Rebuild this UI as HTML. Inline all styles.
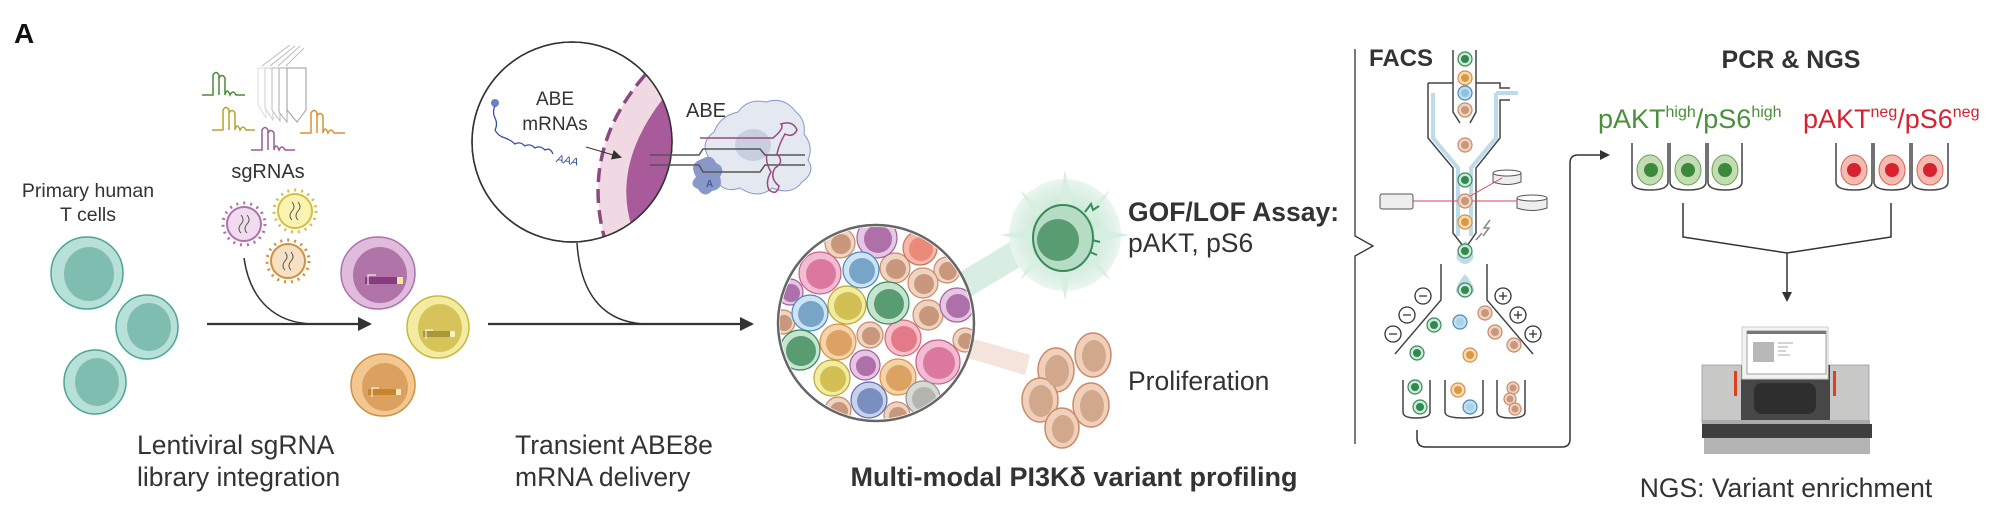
<!DOCTYPE html>
<html><head><meta charset="utf-8"><style>
html,body{margin:0;padding:0;background:#fff;width:2000px;height:532px;overflow:hidden}
svg{display:block;font-family:"Liberation Sans",sans-serif}
</style></head><body>
<svg width="2000" height="532" viewBox="0 0 2000 532" xmlns="http://www.w3.org/2000/svg">
<defs>
<clipPath id="c1"><circle cx="572" cy="142" r="100"/></clipPath>
<clipPath id="c2"><circle cx="876" cy="323" r="96"/></clipPath>
<radialGradient id="gb" cx="0.5" cy="0.5" r="0.5"><stop offset="0.3" stop-color="#bfe3cf"/><stop offset="1" stop-color="#eaf6ef"/></radialGradient>
<marker id="ah" markerWidth="10" markerHeight="10" refX="8" refY="5" orient="auto" markerUnits="userSpaceOnUse"><path d="M0,0 L10,5 L0,10 Z" fill="#333"/></marker>
<marker id="ah2" markerWidth="14" markerHeight="14" refX="12" refY="7" orient="auto" markerUnits="userSpaceOnUse"><path d="M0,0 L14,7 L0,14 Z" fill="#333"/></marker>
</defs>

<text x="14" y="43" font-size="28" font-weight="bold" fill="#111">A</text>

<!-- T cells -->
<text x="88" y="197" font-size="19.5" fill="#333" text-anchor="middle">Primary human</text>
<text x="88" y="221" font-size="19.5" fill="#333" text-anchor="middle">T cells</text>
<g stroke="#4aa597" stroke-width="1.5">
<ellipse cx="87" cy="273" rx="36" ry="36" fill="#b6e0d8"/><ellipse cx="89" cy="274" rx="25" ry="27" fill="#80bdb1" stroke="none"/>
<ellipse cx="147" cy="327" rx="31" ry="32" fill="#b6e0d8"/><ellipse cx="149" cy="327" rx="22" ry="24" fill="#80bdb1" stroke="none"/>
<ellipse cx="95" cy="382" rx="31" ry="32" fill="#b6e0d8"/><ellipse cx="97" cy="382" rx="22" ry="24" fill="#80bdb1" stroke="none"/>
</g>

<!-- sgRNA hairpins -->
<g fill="none" stroke-width="1.5">
<path d="M202,95 H213 V75 q3,-5 6,0 V95 V78 q3,-5 6,0 V95 q2,-8 5,0 q3,-6 6,0 H245" stroke="#4a8a3a"/>
<path d="M212,130 H223 V110 q3,-5 6,0 V130 V113 q3,-5 6,0 V130 q2,-8 5,0 q3,-6 6,0 H255" stroke="#b8a030"/>
<path d="M251,150 H262 V130 q3,-5 6,0 V150 V133 q3,-5 6,0 V150 q2,-8 5,0 q3,-6 6,0 H295" stroke="#9a5a9a"/>
<path d="M300,133 H311 V113 q3,-5 6,0 V133 V116 q3,-5 6,0 V133 q2,-8 5,0 q3,-6 6,0 H345" stroke="#d99030"/>
</g>
<g fill="#fff" stroke="#aaa" stroke-width="1">
<path d="M258,68 V105 L266,118 V68 Z" stroke="#ddd"/>
<path d="M265,68 V108 L273,120 V68 Z" stroke="#ccc"/>
<path d="M272,68 V110 L280,121 V68 Z" stroke="#bbb"/>
<path d="M279,68 V112 L287,122 V68 Z" stroke="#aaa"/>
<path d="M287,68 V110 L297,122 L306,110 V68 Z" stroke="#999"/>
<path d="M262,66 L290,45 M270,66 L295,46 M278,66 L300,46 M286,66 L304,48" stroke="#bbb"/>
</g>
<text x="268" y="178" font-size="20" fill="#333" text-anchor="middle">sgRNAs</text>

<!-- viruses -->
<g>
<circle cx="244" cy="224" r="21" fill="none" stroke="#b070b0" stroke-width="3" stroke-dasharray="2 5"/>
<circle cx="244" cy="224" r="17" fill="#f1dcef" stroke="#b070b0" stroke-width="2"/>
<circle cx="295" cy="211" r="21" fill="none" stroke="#d4c040" stroke-width="3" stroke-dasharray="2 5"/>
<circle cx="295" cy="211" r="17" fill="#fbf4b0" stroke="#d4c040" stroke-width="2"/>
<circle cx="288" cy="261" r="21" fill="none" stroke="#d09040" stroke-width="3" stroke-dasharray="2 5"/>
<circle cx="288" cy="261" r="17" fill="#f6e1c4" stroke="#d09040" stroke-width="2"/>
<path d="M241,215 q4,5 0,9 q-4,5 0,9 M247,215 q4,5 0,9 q-4,5 0,9 M292,202 q4,5 0,9 q-4,5 0,9 M298,202 q4,5 0,9 q-4,5 0,9 M285,252 q4,5 0,9 q-4,5 0,9 M291,252 q4,5 0,9 q-4,5 0,9" stroke="#555" fill="none" stroke-width="1"/>
</g>

<!-- arrow 1 -->
<path d="M244,258 C250,300 275,324 315,324" stroke="#333" stroke-width="1.5" fill="none"/>
<line x1="207" y1="324" x2="370" y2="324" stroke="#333" stroke-width="2.2" marker-end="url(#ah2)"/>

<!-- edited cells -->
<g stroke-width="1.5">
<ellipse cx="378" cy="273" rx="37" ry="36" fill="#e0bcdc" stroke="#b070b0"/><ellipse cx="380" cy="275" rx="27" ry="28" fill="#b174a8"/>
<rect x="365" y="277" width="32" height="7" fill="#8a3a80"/><rect x="397" y="277" width="6" height="7" fill="#f4eaa0"/>
<ellipse cx="438" cy="327" rx="31" ry="31" fill="#f2eba0" stroke="#c8b840"/><ellipse cx="440" cy="328" rx="22" ry="24" fill="#d6c45a"/>
<rect x="423" y="331" width="27" height="6" fill="#a89838"/><rect x="450" y="331" width="5" height="6" fill="#f8f0c0"/>
<ellipse cx="383" cy="385" rx="32" ry="31" fill="#f2c890" stroke="#d09040"/><ellipse cx="385" cy="387" rx="23" ry="24" fill="#dca060"/>
<rect x="368" y="389" width="28" height="6" fill="#c8852e"/><rect x="396" y="389" width="5" height="6" fill="#f6ebb8"/>
</g>
<path d="M368,285 v-10 h8 M426,339 v-9 h7 M372,397 v-9 h7" stroke="#fff" stroke-width="1" fill="none"/>

<text x="137" y="454" font-size="26.5" fill="#333">Lentiviral sgRNA</text>
<text x="137" y="486" font-size="26.5" fill="#333">library integration</text>

<!-- zoom circle -->
<circle cx="572" cy="142" r="100" fill="#fff" stroke="#333" stroke-width="1.5"/>
<g clip-path="url(#c1)">
<path d="M645,75 Q580,150 605,240 L700,240 L700,30 L660,30 Z" fill="#f1d9e4"/>
<path d="M662,100 Q612,165 632,228 L700,228 L700,90 Z" fill="#a85a9a"/>
<path d="M645,75 Q580,150 605,240" fill="none" stroke="#8a4a80" stroke-width="3.5" stroke-dasharray="14 7"/>
</g>
<circle cx="572" cy="142" r="100" fill="none" stroke="#333" stroke-width="1.5"/>
<text x="555" y="105" font-size="19" fill="#333" text-anchor="middle">ABE</text>
<text x="555" y="130" font-size="19" fill="#333" text-anchor="middle">mRNAs</text>
<circle cx="495" cy="103" r="4" fill="#6a80c0"/>
<path d="M495,106 q-3,6 0,12 q3,6 0,12 q3,6 10,8 q6,2 10,6 q5,-3 10,2 q5,-3 10,2 q5,-3 10,2 q5,-3 8,4" stroke="#3050a0" stroke-width="1.3" fill="none"/>
<text x="556" y="162" font-size="11" font-style="italic" fill="#3050a0" transform="rotate(10 556 162)">AAA</text>
<line x1="586" y1="147" x2="620" y2="157" stroke="#333" stroke-width="1" marker-end="url(#ah)"/>
<path d="M577,243 C580,290 600,322 645,324" stroke="#333" stroke-width="1.5" fill="none"/>
<line x1="488" y1="324" x2="752" y2="324" stroke="#333" stroke-width="2.2" marker-end="url(#ah2)"/>

<!-- ABE protein -->
<text x="686" y="117" font-size="20" fill="#333">ABE</text>
<path d="M738,112 q10,-14 28,-10 q18,-6 30,10 q10,8 8,22 q10,12 4,26 q8,12 -6,22 q-10,14 -30,6 q-14,12 -32,0 q-18,6 -24,-10 q-14,-6 -8,-22 q-8,-14 6,-24 q6,-16 24,-20 Z" fill="#e4e8f1" stroke="#8898c8" stroke-width="1"/>
<ellipse cx="753" cy="145" rx="18" ry="16" fill="#c8cfe0"/>
<path d="M696,177 q-8,-14 6,-18 q10,-6 14,4 q10,4 4,14 q4,12 -8,14 q-8,8 -14,-2 q-10,-4 -2,-12 Z" fill="#8898c8"/>
<text x="706" y="187" font-size="10" font-weight="bold" fill="#4a5a9a">A</text>
<g stroke="#555" stroke-width="1.5" fill="none">
<path d="M650,155 H699 L703,149 H760 L765,155 H805"/>
<path d="M650,165 H699 L703,172 H760 L765,165 H805"/>
</g>
<path d="M700,138 H773 q12,-10 8,-14 q12,-4 16,6 q-4,8 -12,4 q-6,10 -8,20 q8,8 -2,14 q-6,10 4,18 q-2,10 -10,4 q-4,-8 2,-18 q-6,-10 -4,-18" stroke="#9a4a80" stroke-width="1.5" fill="none"/>

<!-- beams -->
<path d="M955,275 L1030,230 L1040,255 L965,300 Z" fill="#cfeadb" opacity="0.8"/>
<path d="M960,335 L1030,355 L1025,375 L958,355 Z" fill="#f3e1d8" opacity="0.9"/>

<!-- big cell circle -->
<circle cx="876" cy="323" r="98" fill="#fff"/>
<g clip-path="url(#c2)" stroke-width="1.2">
<g fill="#f0d4c2" stroke="#c98a6a"><circle cx="840" cy="243" r="15"/><circle cx="895" cy="268" r="15"/><circle cx="947" cy="270" r="13"/><circle cx="923" cy="283" r="15"/><circle cx="928" cy="315" r="15"/><circle cx="783" cy="322" r="12"/><circle cx="870" cy="335" r="13"/><circle cx="965" cy="340" r="12"/><circle cx="838" cy="410" r="13"/><circle cx="897" cy="415" r="13"/></g>
<g fill="#c9977b"><circle cx="841" cy="244" r="10"/><circle cx="896" cy="269" r="10"/><circle cx="948" cy="271" r="9"/><circle cx="924" cy="284" r="10"/><circle cx="929" cy="316" r="10"/><circle cx="784" cy="323" r="8"/><circle cx="871" cy="336" r="9"/><circle cx="966" cy="341" r="8"/><circle cx="839" cy="411" r="9"/><circle cx="898" cy="416" r="9"/></g>
<g fill="#e6c6e2" stroke="#a060a0"><circle cx="877" cy="238" r="20"/><circle cx="790" cy="292" r="13"/><circle cx="957" cy="305" r="17"/><circle cx="865" cy="365" r="15"/></g>
<g fill="#ad70a8"><circle cx="878" cy="239" r="14"/><circle cx="791" cy="293" r="9"/><circle cx="958" cy="306" r="12"/><circle cx="866" cy="366" r="10"/></g>
<circle cx="920" cy="248" r="17" fill="#f5b8a8" stroke="#d0705a"/><circle cx="921" cy="249" r="12" fill="#ea8a78"/>
<g fill="#f2bcd2" stroke="#c8608a"><circle cx="820" cy="273" r="21"/><circle cx="938" cy="362" r="22"/></g>
<g fill="#dc78a0"><circle cx="821" cy="274" r="15"/><circle cx="939" cy="363" r="16"/></g>
<circle cx="903" cy="338" r="18" fill="#f6c0c8" stroke="#d86a7a"/><circle cx="904" cy="339" r="13" fill="#e27a88"/>
<g fill="#cfe4f2" stroke="#4a88c0"><circle cx="861" cy="270" r="18"/><circle cx="810" cy="313" r="18"/></g>
<g fill="#78a4c8"><circle cx="862" cy="271" r="13"/><circle cx="811" cy="314" r="13"/></g>
<g fill="#f2eca0" stroke="#b8a838"><circle cx="847" cy="305" r="19"/><circle cx="832" cy="378" r="18"/></g>
<g fill="#d2c054"><circle cx="848" cy="306" r="14"/><circle cx="833" cy="379" r="13"/></g>
<g fill="#c6e4d0" stroke="#3a8a58"><circle cx="888" cy="303" r="21"/><circle cx="800" cy="350" r="20"/></g>
<g fill="#5a9c72"><circle cx="889" cy="304" r="15"/><circle cx="801" cy="351" r="15"/></g>
<g fill="#f6d4aa" stroke="#d8904a"><circle cx="838" cy="342" r="18"/><circle cx="898" cy="377" r="18"/></g>
<g fill="#dca264"><circle cx="839" cy="343" r="13"/><circle cx="899" cy="378" r="13"/></g>
<circle cx="869" cy="400" r="18" fill="#c8d2ea" stroke="#5a70b0"/><circle cx="870" cy="401" r="13" fill="#7a8ec0"/>
<circle cx="923" cy="398" r="17" fill="#d8d8d4" stroke="#909090"/><circle cx="924" cy="399" r="12" fill="#b4b4b0"/>
</g>
<circle cx="876" cy="323" r="98" fill="none" stroke="#666" stroke-width="2.5"/>

<!-- GOF cell -->
<circle cx="1065" cy="235" r="56" fill="url(#gb)"/>
<g fill="#d6efe0">
<path d="M1065,170 L1072,205 L1058,205 Z M1065,300 L1072,265 L1058,265 Z M1000,235 L1035,228 L1035,242 Z M1130,235 L1095,228 L1095,242 Z M1020,190 L1045,212 L1038,220 Z M1110,190 L1085,212 L1092,220 Z M1020,280 L1045,258 L1038,250 Z M1110,280 L1085,258 L1092,250 Z"/>
</g>
<ellipse cx="1063" cy="238" rx="30" ry="33" fill="#b5dcc4" stroke="#3a8a58" stroke-width="2"/>
<circle cx="1058" cy="240" r="21" fill="#5a9c72"/>
<path d="M1085,212 l6,-8 l2,6 l6,-4 M1092,240 l8,2 M1090,252 l7,3" stroke="#3a8a58" stroke-width="2" fill="none"/>
<text x="1128" y="221" font-size="26.5" font-weight="bold" fill="#333">GOF/LOF Assay:</text>
<text x="1128" y="252" font-size="26.5" fill="#333">pAKT, pS6</text>

<!-- proliferation cells -->
<g fill="#f0d0ba" stroke="#c98a6a" stroke-width="1.5">
<ellipse cx="1093" cy="355" rx="18" ry="22"/><ellipse cx="1056" cy="370" rx="18" ry="22"/><ellipse cx="1040" cy="400" rx="18" ry="22"/><ellipse cx="1091" cy="405" rx="18" ry="22"/><ellipse cx="1062" cy="428" rx="17" ry="20"/>
</g>
<g fill="#d2a88c"><ellipse cx="1094" cy="356" rx="12" ry="16"/><ellipse cx="1057" cy="371" rx="12" ry="16"/><ellipse cx="1041" cy="401" rx="12" ry="16"/><ellipse cx="1092" cy="406" rx="12" ry="16"/><ellipse cx="1063" cy="429" rx="11" ry="14"/></g>
<text x="1128" y="390" font-size="26.5" fill="#333">Proliferation</text>

<text x="1074" y="486" font-size="27" font-weight="bold" fill="#333" text-anchor="middle">Multi-modal PI3Kδ variant profiling</text>

<!-- bracket -->
<path d="M1355,49 V236 L1373,246 L1355,256 V444" stroke="#333" stroke-width="1.3" fill="none"/>
<text x="1369" y="66" font-size="24" font-weight="bold" fill="#333">FACS</text>

<!-- FACS machine -->
<path d="M1453,50 V112 L1460,123 M1476,50 V112 L1470,123" stroke="#444" stroke-width="1.5" fill="none"/>
<path d="M1433,93 V138 L1458,168 V236 M1496,93 V138 L1471,168 V236 M1496,93 H1518" stroke="#bcdcea" stroke-width="4" fill="none"/>
<path d="M1428,83 H1453 M1476,83 H1500 V88 H1510 M1510,100 H1500 V138 L1476,168 V233 L1467,246 M1428,83 V138 L1453,168 V233 L1463,246" stroke="#444" stroke-width="1.5" fill="none"/>
<path d="M1465,241 q-10,10 -8,18 q8,10 16,0 q2,-8 -8,-18 Z" fill="#bcdcea"/>
<rect x="1380" y="194" width="33" height="15" rx="2" fill="#eee" stroke="#555"/>
<path d="M1493,173 v9 q14,5 28,0 v-9 Z" fill="#eee" stroke="#555"/><ellipse cx="1507" cy="173" rx="14" ry="3" fill="#fff" stroke="#555"/>
<path d="M1517,198 v10 q15,5 30,0 v-10 Z" fill="#eee" stroke="#555"/><ellipse cx="1532" cy="198" rx="15" ry="3" fill="#fff" stroke="#555"/>
<path d="M1413,201 H1517 M1465,199 L1502,178" stroke="#e0405a" stroke-width="1"/>
<path d="M1490,220 l-6,8 h5 l-6,8 M1482,233 l-6,7" stroke="#888" stroke-width="1.5" fill="none"/>
<g stroke-width="1.2">
<circle cx="1465" cy="59" r="7" fill="#cfe8d8" stroke="#3a8a58"/><circle cx="1465" cy="59" r="4" fill="#2f8a52"/>
<circle cx="1465" cy="78" r="7" fill="#f6ddb8" stroke="#d8904a"/><circle cx="1465" cy="78" r="4" fill="#d99a40"/>
<circle cx="1465" cy="93" r="7" fill="#bfe0ee" stroke="#4a88c0"/><circle cx="1465" cy="93" r="4" fill="#8cc4dc"/>
<circle cx="1465" cy="110" r="7" fill="#f0d4c2" stroke="#c98a6a"/><circle cx="1465" cy="110" r="4" fill="#c9977b"/>
<circle cx="1465" cy="145" r="7" fill="#f0d4c2" stroke="#c98a6a"/><circle cx="1465" cy="145" r="4" fill="#c9977b"/>
<circle cx="1465" cy="180" r="7" fill="#cfe8d8" stroke="#3a8a58"/><circle cx="1465" cy="180" r="4" fill="#2f8a52"/>
<circle cx="1465" cy="201" r="7" fill="#f0d4c2" stroke="#c98a6a"/><circle cx="1465" cy="201" r="4" fill="#c9977b"/>
<circle cx="1465" cy="222" r="7" fill="#f6ddb8" stroke="#d8904a"/><circle cx="1465" cy="222" r="4" fill="#d99a40"/>
<circle cx="1465" cy="251" r="7" fill="#cfe8d8" stroke="#3a8a58"/><circle cx="1465" cy="251" r="4" fill="#2f8a52"/>
</g>
<!-- deflection -->
<path d="M1441,264 V300 L1395,354 M1487,264 V300 L1533,354" stroke="#444" stroke-width="1.5" fill="none"/>
<g fill="#fff" stroke="#333" stroke-width="1.3">
<circle cx="1423" cy="296" r="8"/><circle cx="1407" cy="315" r="8"/><circle cx="1393" cy="334" r="8"/>
<circle cx="1503" cy="296" r="8"/><circle cx="1518" cy="315" r="8"/><circle cx="1533" cy="334" r="8"/>
<path d="M1419,296 h8 M1403,315 h8 M1389,334 h8 M1499,296 h8 M1503,292 v8 M1514,315 h8 M1518,311 v8 M1529,334 h8 M1533,330 v8"/>
</g>
<path d="M1465,274 q-10,12 -9,18 q9,10 18,0 q1,-6 -9,-18 Z" fill="#bcdcea"/>
<g stroke-width="1.2">
<circle cx="1465" cy="290" r="7" fill="#cfe8d8" stroke="#3a8a58"/><circle cx="1465" cy="290" r="4" fill="#2f8a52"/>
<circle cx="1434" cy="325" r="7" fill="#cfe8d8" stroke="#3a8a58"/><circle cx="1434" cy="325" r="4" fill="#2f8a52"/>
<circle cx="1417" cy="353" r="7" fill="#cfe8d8" stroke="#3a8a58"/><circle cx="1417" cy="353" r="4" fill="#2f8a52"/>
<circle cx="1460" cy="322" r="7" fill="#bfe0ee" stroke="#4a88c0"/><circle cx="1460" cy="322" r="4" fill="#a8d4e6"/>
<circle cx="1485" cy="313" r="7" fill="#f0d4c2" stroke="#c98a6a"/><circle cx="1485" cy="313" r="4" fill="#c9977b"/>
<circle cx="1495" cy="332" r="7" fill="#f0d4c2" stroke="#c98a6a"/><circle cx="1495" cy="332" r="4" fill="#c9977b"/>
<circle cx="1514" cy="345" r="7" fill="#f0d4c2" stroke="#c98a6a"/><circle cx="1514" cy="345" r="4" fill="#c9977b"/>
<circle cx="1470" cy="355" r="7" fill="#f6ddb8" stroke="#d8904a"/><circle cx="1470" cy="355" r="4" fill="#d99a40"/>
<circle cx="1415" cy="387" r="7" fill="#cfe8d8" stroke="#3a8a58"/><circle cx="1415" cy="387" r="4" fill="#2f8a52"/>
<circle cx="1420" cy="407" r="7" fill="#cfe8d8" stroke="#3a8a58"/><circle cx="1420" cy="407" r="4" fill="#2f8a52"/>
<circle cx="1458" cy="390" r="7" fill="#f6ddb8" stroke="#d8904a"/><circle cx="1458" cy="390" r="4" fill="#d99a40"/>
<circle cx="1470" cy="407" r="7" fill="#bfe0ee" stroke="#4a88c0"/><circle cx="1470" cy="407" r="4" fill="#a8d4e6"/>
<circle cx="1513" cy="388" r="6" fill="#f0d4c2" stroke="#c98a6a"/><circle cx="1513" cy="388" r="3.5" fill="#c9977b"/>
<circle cx="1510" cy="399" r="6" fill="#f0d4c2" stroke="#c98a6a"/><circle cx="1510" cy="399" r="3.5" fill="#c9977b"/>
<circle cx="1515" cy="409" r="6" fill="#f0d4c2" stroke="#c98a6a"/><circle cx="1515" cy="409" r="3.5" fill="#c9977b"/>
</g>
<path d="M1403,380 V412 q0,6 13,6 q14,0 14,-6 V380 M1445,380 V412 q0,6 19,6 q19,0 19,-6 V380 M1497,380 V412 q0,6 13,6 q15,0 15,-6 V380" stroke="#444" stroke-width="1.5" fill="none"/>
<path d="M1417,430 V438 q0,9 9,9 H1562 q8,0 8,-8 V163 q0,-8 8,-8 H1608" stroke="#333" stroke-width="1.5" fill="none" marker-end="url(#ah)"/>

<!-- PCR & NGS -->
<text x="1791" y="68" font-size="25" font-weight="bold" fill="#333" text-anchor="middle">PCR &amp; NGS</text>
<text x="1598" y="128" font-size="27" fill="#4a8f3a">pAKT<tspan font-size="16" dy="-11">high</tspan><tspan dy="11">/pS6</tspan><tspan font-size="16" dy="-11">high</tspan></text>
<text x="1803" y="128" font-size="27" fill="#d7212e">pAKT<tspan font-size="16" dy="-11">neg</tspan><tspan dy="11">/pS6</tspan><tspan font-size="16" dy="-11">neg</tspan></text>
<g stroke="#444" stroke-width="1.5" fill="none">
<path d="M1632,143 V182 q0,8 18,8 q18,0 18,-8 V143 M1670,143 V182 q0,8 18,8 q18,0 18,-8 V143 M1708,143 V182 q0,8 17,8 q17,0 17,-8 V143"/>
<path d="M1836,143 V182 q0,8 18,8 q18,0 18,-8 V143 M1874,143 V182 q0,8 18,8 q18,0 18,-8 V143 M1912,143 V182 q0,8 18,8 q18,0 18,-8 V143"/>
</g>
<g fill="#c4dcb4" stroke="#6aa050" stroke-width="1"><ellipse cx="1650" cy="170" rx="13" ry="15"/><ellipse cx="1688" cy="170" rx="13" ry="15"/><ellipse cx="1725" cy="170" rx="13" ry="15"/></g>
<g fill="#3a8a3a"><circle cx="1651" cy="170" r="7"/><circle cx="1688" cy="170" r="7"/><circle cx="1725" cy="170" r="7"/></g>
<g fill="#f4bcb0" stroke="#d86050" stroke-width="1"><ellipse cx="1854" cy="170" rx="13" ry="15"/><ellipse cx="1892" cy="170" rx="13" ry="15"/><ellipse cx="1930" cy="170" rx="13" ry="15"/></g>
<g fill="#d7212e"><circle cx="1854" cy="170" r="7"/><circle cx="1892" cy="170" r="7"/><circle cx="1930" cy="170" r="7"/></g>
<path d="M1683,203 V237 L1787,253 L1891,237 V203 M1787,253 V300" stroke="#333" stroke-width="1.5" fill="none" marker-end="url(#ah)"/>

<!-- NGS machine -->
<rect x="1702" y="365" width="167" height="57" fill="#c8c8c6" stroke="#999" stroke-width="0.8"/>
<rect x="1741" y="365" width="89" height="57" fill="#474747"/>
<rect x="1754" y="383" width="62" height="31" rx="8" fill="#2e2e2e"/>
<rect x="1734" y="371" width="3" height="25" fill="#e04020"/>
<rect x="1833" y="371" width="3" height="25" fill="#e04020"/>
<rect x="1742" y="327" width="86" height="52" fill="#f2f2f0" stroke="#ccc"/>
<rect x="1747" y="331" width="79" height="43" fill="#fff" stroke="#888" stroke-width="0.8"/>
<rect x="1747" y="331" width="79" height="3" fill="#777"/>
<rect x="1753" y="342" width="21" height="20" fill="#b8b8b6"/>
<path d="M1778,343 h15 M1778,347 h10 M1778,351 h8 M1778,355 h12" stroke="#aaa" stroke-width="1"/>
<rect x="1702" y="420" width="168" height="4" fill="#aaa"/>
<rect x="1702" y="424" width="170" height="14" fill="#3e3e3e"/>
<rect x="1704" y="438" width="166" height="16" fill="#b4b4b2"/>
<text x="1786" y="497" font-size="26.5" fill="#333" text-anchor="middle">NGS: Variant enrichment</text>

<text x="515" y="454" font-size="26.5" fill="#333">Transient ABE8e</text>
<text x="515" y="486" font-size="26.5" fill="#333">mRNA delivery</text>
</svg>
</body></html>
